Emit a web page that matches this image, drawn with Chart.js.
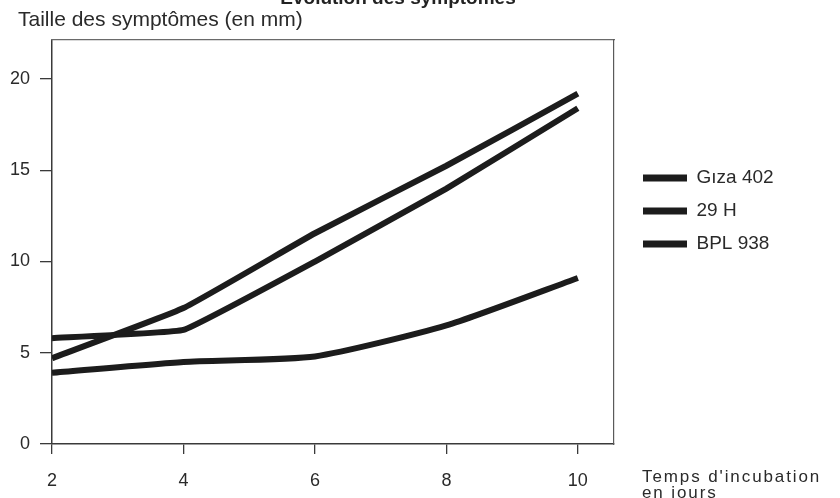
<!DOCTYPE html>
<html lang="fr">
<head>
<meta charset="utf-8">
<title>Evolution des symptômes</title>
<script src="https://cdn.jsdelivr.net/npm/chart.js@4.4.1/dist/chart.umd.min.js"></script>
<style>
  html, body { margin: 0; padding: 0; background: #fff; overflow: hidden; }
  #wrap { position: relative; width: 840px; height: 498px; overflow: hidden; }
  #chart { position: absolute; left: 0; top: -16px; }
</style>
</head>
<body>
<div id="wrap"><canvas id="chart" width="840" height="514"></canvas></div>
<script>
// Textes
const titre = 'Evolution des symptômes';
const titreY = 'Taille des symptômes (en mm)';
const titreX = ["Temps d'incubation", 'en jours'];

// Données (taille en mm selon le temps d'incubation)
const jours = [2, 4, 6, 8, 10];
const giza402 = [4.7, 7.45, 11.55, 15.25, 19.2];
const h29 = [5.8, 6.25, 10.0, 14.0, 18.4];
const bpl938 = [3.9, 4.5, 4.8, 6.5, 9.1];

// Graduations
const ticksX = [2, 4, 6, 8, 10];
const ticksY = [0, 5, 10, 15, 20];

const encre = '#1c1c1c';
const texte = '#2a2a2a';

Chart.defaults.font.family = '"Liberation Sans", Arial, sans-serif';
Chart.defaults.color = texte;

function points(valeurs) {
    return jours.map((j, i) => ({ x: j, y: valeurs[i] }));
}

function serie(label, valeurs, courbure) {
    return {
        label: label,
        data: points(valeurs),
        borderColor: encre,
        backgroundColor: encre,
        borderWidth: 6,
        pointRadius: 0,
        tension: courbure,
        fill: false,
    };
}

// Legend width + positions of the title blocks
const miseEnPage = {
    id: 'miseEnPage',
    beforeInit(chart) {
        const fitOrigine = chart.legend.fit;
        chart.legend.fit = function () {
            fitOrigine.bind(chart.legend)();
            this.width = 226;
        };
    },
    afterLayout(chart) {
        chart.legend.left = 629;
        chart.legend.top = 170.5;
        chart.titleBlock.left = 0;
        chart.titleBlock.right = 796;
        const sous = chart.boxes.find(b => b.options && b.options.text === titreY);
        if (sous) sous.left = 18;
    }
};

// Titre de l'axe des x, à droite du graphique
const legendeX = {
    id: 'legendeX',
    afterDraw(chart) {
        const ctx = chart.ctx;
        const area = chart.chartArea;
        ctx.save();
        ctx.font = '17px "Liberation Sans", Arial, sans-serif';
        ctx.fillStyle = texte;
        if ('letterSpacing' in ctx) ctx.letterSpacing = '1.9px';
        ctx.textAlign = 'left';
        ctx.textBaseline = 'alphabetic';
        titreX.forEach((ligne, i) => {
            ctx.fillText(ligne, area.right + 28, area.bottom + 38 + i * 16);
        });
        ctx.restore();
    }
};

const options = {
    responsive: false,
    animation: false,
    events: [],
    layout: { padding: 0 },
    scales: {
        x: {
            type: 'linear',
            position: 'bottom',
            min: 2,
            max: 10.55,
            afterBuildTicks: (s) => { s.ticks = ticksX.map(v => ({ value: v })); },
            afterFit: (s) => { s.height = 54; },
            ticks: { font: { size: 18 }, padding: 16, color: texte },
            grid: { drawOnChartArea: false, drawTicks: true, tickLength: 10, color: '#3a3a3a', lineWidth: 1.3 },
            border: { color: '#3a3a3a', width: 1.5 },
        },
        y: {
            type: 'linear',
            position: 'left',
            min: 0,
            max: 22.14,
            afterBuildTicks: (s) => { s.ticks = ticksY.map(v => ({ value: v })); },
            afterFit: (s) => { s.width = 52; },
            ticks: { font: { size: 18 }, padding: 10, color: texte },
            grid: { drawOnChartArea: false, drawTicks: true, tickLength: 12, color: '#3a3a3a', lineWidth: 1.3 },
            border: { color: '#3a3a3a', width: 1.5 },
        },
        xHaut: {
            type: 'linear',
            position: 'top',
            min: 2,
            max: 10.55,
            afterFit: (s) => { s.height = 0; },
            ticks: { display: false },
            grid: { display: false },
            border: { color: '#6a6a6a', width: 1.2 },
        },
        yDroite: {
            type: 'linear',
            position: 'right',
            min: 0,
            max: 22.14,
            afterFit: (s) => { s.width = 0; },
            ticks: { display: false },
            grid: { display: false },
            border: { color: '#5a5a5a', width: 1.2 },
        },
    },
    plugins: {
        title: {
            display: true,
            text: titre,
            align: 'center',
            color: '#222',
            font: { size: 19, weight: 'bold', lineHeight: 1.2 },
            padding: { top: 3, bottom: 0 },
        },
        subtitle: {
            display: true,
            text: titreY,
            align: 'start',
            color: texte,
            font: { size: 21, lineHeight: 1 },
            padding: { top: 0, bottom: 9.2 },
        },
        legend: {
            display: true,
            position: 'right',
            align: 'start',
            labels: {
                boxWidth: 44,
                boxHeight: 7,
                padding: 14,
                color: texte,
                font: { size: 19 },
                generateLabels: (chart) => Chart.defaults.plugins.legend.labels.generateLabels(chart)
                    .map(item => Object.assign(item, { lineWidth: 0, fillStyle: encre })),
            },
        },
        tooltip: { enabled: false },
    },
};

new Chart(document.getElementById('chart'), {
    type: 'line',
    data: {
        datasets: [
            serie('Gıza 402', giza402, 0.12),
            serie('29 H', h29, 0.08),
            serie('BPL 938', bpl938, 0.2),
        ]
    },
    options: options,
    plugins: [miseEnPage, legendeX],
});
</script>
</body>
</html>
